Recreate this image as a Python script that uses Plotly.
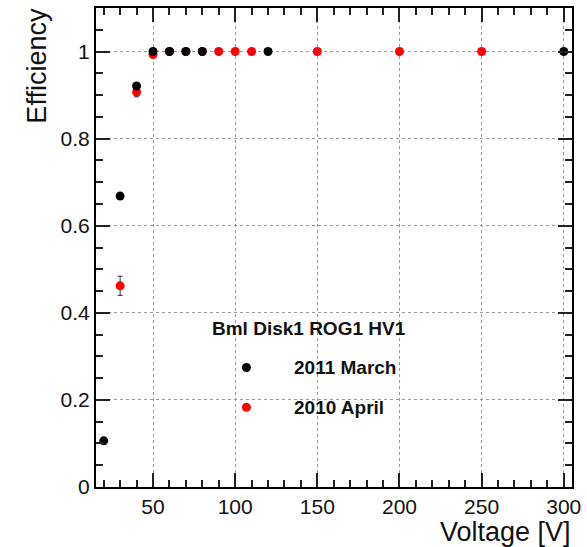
import plotly.graph_objects as go

# Data
march_v = [20, 30, 40, 50, 60, 70, 80, 120, 300]
march_eff = [0.106, 0.668, 0.921, 1.0, 1.0, 1.0, 1.0, 1.0, 1.0]
march_err = [0.002, 0.004, 0.004, 0.001, 0.0, 0.0, 0.0, 0.0, 0.0]

april_v = [30, 40, 50, 60, 70, 80, 90, 100, 110, 150, 200, 250]
april_eff = [0.462, 0.907, 0.993, 1.0, 1.0, 1.0, 1.0, 1.0, 1.0, 1.0, 1.0, 1.0]
april_err = [0.022, 0.011, 0.004, 0.0, 0.0, 0.0, 0.0, 0.0, 0.0, 0.0, 0.0, 0.0]

legend_title = "Bml Disk1 ROG1 HV1"
name_march = "2011 March"
name_april = "2010 April"

FONT = "Liberation Sans, Arial, Helvetica, sans-serif"

fig = go.Figure()
fig.add_trace(go.Scatter(
    x=april_v, y=april_eff, mode="markers", name=name_april,
    marker=dict(color="#ff0000", size=9),
    error_y=dict(type="data", array=april_err, color="#333333", thickness=1, width=2.5),
    showlegend=False,
))
fig.add_trace(go.Scatter(
    x=march_v, y=march_eff, mode="markers", name=name_march,
    marker=dict(color="#000000", size=9),
    error_y=dict(type="data", array=march_err, color="#333333", thickness=1, width=2.5),
    showlegend=False,
))

L, R, T, B = 96, 10, 6, 60
W, H = 587, 547
pw, ph = W - L - R, H - T - B


def px2x(px):
    return (px - L) / pw


def py2y(py):
    return (H - B - py) / ph


axis_common = dict(
    showline=True, linecolor="black", linewidth=2, mirror="allticks",
    ticks="inside", tickcolor="#222", tickwidth=1.5, ticklen=14,
    showgrid=True, gridcolor="#9a9a9a", griddash="dot", gridwidth=1,
    zeroline=False,
    tickfont=dict(family=FONT, size=21, color="#111"),
)

fig.update_xaxes(
    range=[15.3, 305.0], dtick=50, tick0=0,
    minor=dict(dtick=10, ticks="inside", ticklen=7, tickcolor="#222", tickwidth=1.5, showgrid=False),
    **axis_common,
)
fig.update_yaxes(
    range=[0, 1.1], dtick=0.2, tick0=0,
    minor=dict(dtick=0.05, ticks="inside", ticklen=7, tickcolor="#222", tickwidth=1.5, showgrid=False),
    **axis_common,
)

annotations = [
    dict(text="Efficiency", xref="paper", yref="paper", x=px2x(36), y=py2y(4),
         xanchor="center", yanchor="top", textangle=-90, showarrow=False,
         font=dict(family=FONT, size=27, color="#111")),
    dict(text="Voltage [V]", xref="paper", yref="paper", x=px2x(578), y=py2y(532),
         xanchor="right", yanchor="middle", showarrow=False,
         font=dict(family=FONT, size=27, color="#111")),
    dict(text="<b>" + legend_title + "</b>", xref="paper", yref="paper", x=px2x(211), y=py2y(328),
         xanchor="left", yanchor="middle", showarrow=False,
         font=dict(family=FONT, size=19, color="#111")),
    dict(text="<b>" + name_march + "</b>", xref="paper", yref="paper", x=px2x(294), y=py2y(367),
         xanchor="left", yanchor="middle", showarrow=False,
         font=dict(family=FONT, size=19, color="#111")),
    dict(text="<b>" + name_april + "</b>", xref="paper", yref="paper", x=px2x(294), y=py2y(407),
         xanchor="left", yanchor="middle", showarrow=False,
         font=dict(family=FONT, size=19, color="#111")),
]

shapes = []
for cy, col in [(367, "#000000"), (407, "#ff0000")]:
    shapes.append(dict(
        type="circle", xref="paper", yref="paper",
        xsizemode="pixel", ysizemode="pixel",
        xanchor=px2x(248), yanchor=py2y(cy),
        x0=-4.5, x1=4.5, y0=-4.5, y1=4.5,
        fillcolor=col, line=dict(color=col, width=0),
    ))

fig.update_layout(
    width=W, height=H,
    margin=dict(l=L, r=R, t=T, b=B),
    paper_bgcolor="white", plot_bgcolor="white",
    annotations=annotations, shapes=shapes,
    showlegend=False,
)

fig.write_html("out.html")
